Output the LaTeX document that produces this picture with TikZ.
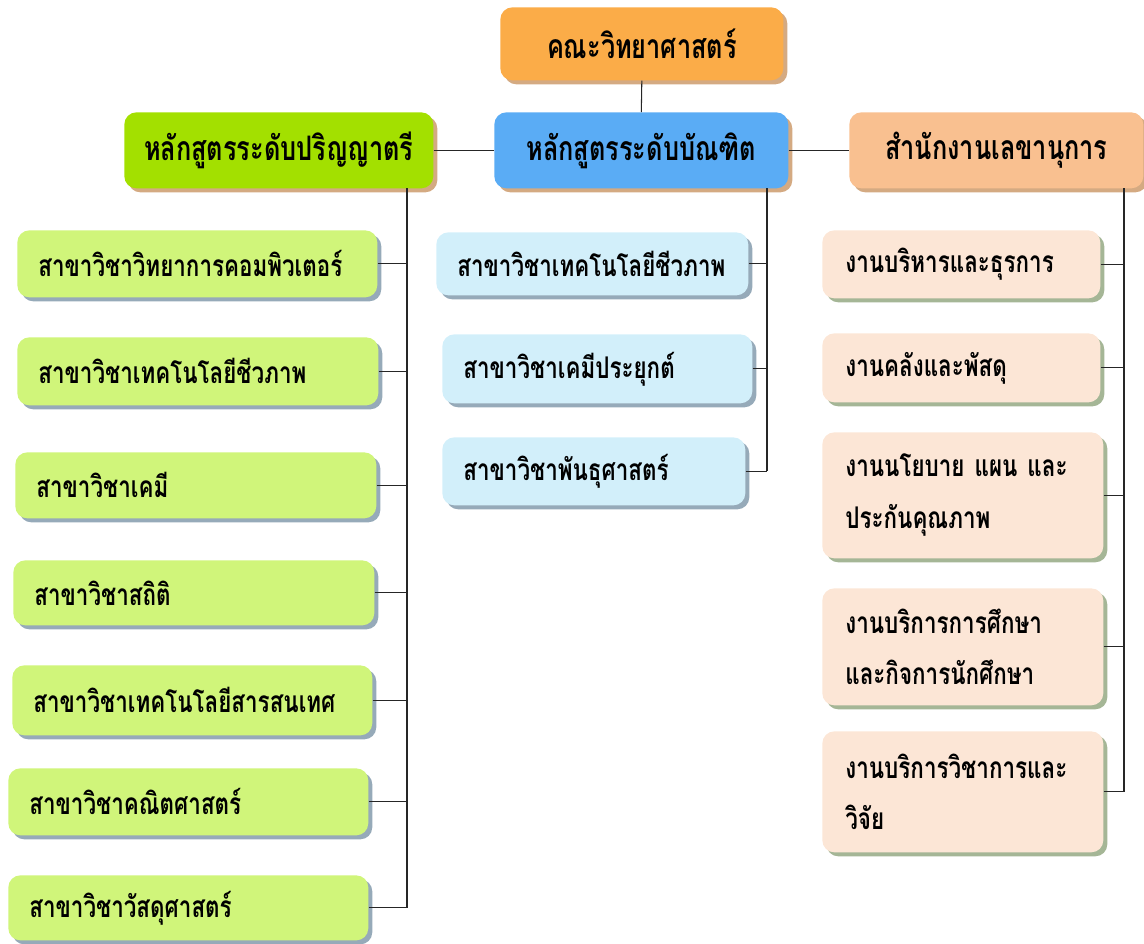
\documentclass[tikz,border=0pt]{standalone}
\usepackage{fontspec}
\newfontfamily\thai[Script=Thai,FakeStretch=0.75]{Loma}
\usetikzlibrary{shadows,calc}
\definecolor{cTop}{RGB}{251,172,72}
\definecolor{cGreen}{RGB}{163,224,0}
\definecolor{cBlue}{RGB}{90,172,245}
\definecolor{cPeach}{RGB}{249,192,144}
\definecolor{cLGreen}{RGB}{208,245,122}
\definecolor{cLBlue}{RGB}{210,239,250}
\definecolor{cLPeach}{RGB}{252,230,214}
\definecolor{sTan}{RGB}{212,170,130}
\definecolor{sGray}{RGB}{150,170,185}
\definecolor{sGreen}{RGB}{165,182,150}
\tikzset{
  box/.style={rounded corners=0.24cm, inner ysep=0pt, anchor=north west},
  headbox/.style={box, align=center, inner xsep=0pt,
    font=\thai\bfseries\fontsize{19.2}{28}\selectfont,
    drop shadow={fill=sTan, opacity=1, shadow xshift=0.08cm, shadow yshift=-0.08cm}},
  subbox/.style={box, align=left, inner xsep=0.42cm,
    font=\thai\bfseries\fontsize{17}{29.5}\selectfont},
  subL/.style={subbox, fill=cLGreen, text width=#1,
    drop shadow={fill=sGray, opacity=1, shadow xshift=0.08cm, shadow yshift=-0.08cm}},
  subM/.style={subbox, fill=cLBlue, text width=#1,
    drop shadow={fill=sGray, opacity=1, shadow xshift=0.08cm, shadow yshift=-0.08cm}},
  subR/.style={subbox, inner xsep=0.46cm, fill=cLPeach, text width=#1,
    drop shadow={fill=sGreen, opacity=1, shadow xshift=0.08cm, shadow yshift=-0.08cm}},
  conn/.style={draw=black!85, line width=0.6pt}
}
\begin{document}
\begin{tikzpicture}[x=0.02cm,y=-0.02cm]
\useasboundingbox (0,0) rectangle (1144,944);
% top
\node[headbox, fill=cTop, minimum width=5.66cm, minimum height=1.46cm] (top) at (500,7) {คณะวิทยาศาสตร์};
% level 2
\node[headbox, fill=cGreen, minimum width=6.18cm, minimum height=1.52cm] (ug) at (124,112) {หลักสูตรระดับปริญญาตรี};
\node[headbox, fill=cBlue, minimum width=5.88cm, minimum height=1.52cm] (gr) at (494,112) {หลักสูตรระดับบัณฑิต};
\node[headbox, fill=cPeach, minimum width=5.88cm, minimum height=1.52cm] (off) at (849,112) {สำนักงานเลขานุการ};
% left column (box width - 0.84cm)
\node[subL=6.36cm, minimum height=1.34cm] (L1) at (17,230) {สาขาวิชาวิทยาการคอมพิวเตอร์};
\node[subL=6.38cm, minimum height=1.36cm] (L2) at (17,337) {สาขาวิชาเทคโนโลยีชีวภาพ};
\node[subL=6.38cm, minimum height=1.32cm] (L3) at (15,452) {สาขาวิชาเคมี};
\node[subL=6.38cm, minimum height=1.30cm] (L4) at (13,560) {สาขาวิชาสถิติ};
\node[subL=6.36cm, minimum height=1.40cm] (L5) at (12,665) {สาขาวิชาเทคโนโลยีสารสนเทศ};
\node[subL=6.36cm, minimum height=1.34cm] (L6) at (8,768) {สาขาวิชาคณิตศาสตร์};
\node[subL=6.36cm, minimum height=1.30cm] (L7) at (8,875) {สาขาวิชาวัสดุศาสตร์};
% middle column
\node[subM=5.40cm, minimum height=1.26cm] (M1) at (436,232) {สาขาวิชาเทคโนโลยีชีวภาพ};
\node[subM=5.36cm, minimum height=1.38cm] (M2) at (442,334) {สาขาวิชาเคมีประยุกต์};
\node[subM=5.22cm, minimum height=1.36cm] (M3) at (442,437) {สาขาวิชาพันธุศาสตร์};
% right column (box width - 0.92cm)
\node[subR=4.64cm, minimum height=1.36cm] (R1) at (822,230) {งานบริหารและธุรการ};
\node[subR=4.64cm, minimum height=1.38cm] (R2) at (822,333) {งานคลังและพัสดุ};
\node[subR=4.70cm, minimum height=2.52cm] (R3) at (822,432) {งานนโยบาย แผน และ\\ประกันคุณภาพ};
\node[subR=4.70cm, minimum height=2.34cm] (R4) at (822,588) {งานบริการการศึกษา\\และกิจการนักศึกษา};
\node[subR=4.70cm, minimum height=2.42cm] (R5) at (822,731) {งานบริการวิชาการและ\\วิจัย};
% trunks
\coordinate (tL) at (407,188);
\coordinate (tM) at (767,188);
\coordinate (tR) at (1124,188);
% connectors
\draw[conn] (top.south) -- (gr.north);
\draw[conn] (ug.east) -- (gr.west);
\draw[conn] (gr.east) -- (off.west);
\draw[conn] (tL) -- (tL |- L7.east);
\foreach \n in {L1,L2,L3,L4,L5,L6,L7} \draw[conn] (\n.east) -- (\n.east -| tL);
\draw[conn] (tM) -- (tM |- M3.east);
\foreach \n in {M1,M2,M3} \draw[conn] (\n.east) -- (\n.east -| tM);
\draw[conn] (tR) -- (tR |- R5.east);
\foreach \n in {R1,R2,R3,R4,R5} \draw[conn] (\n.east) -- (\n.east -| tR);
\end{tikzpicture}
\end{document}
